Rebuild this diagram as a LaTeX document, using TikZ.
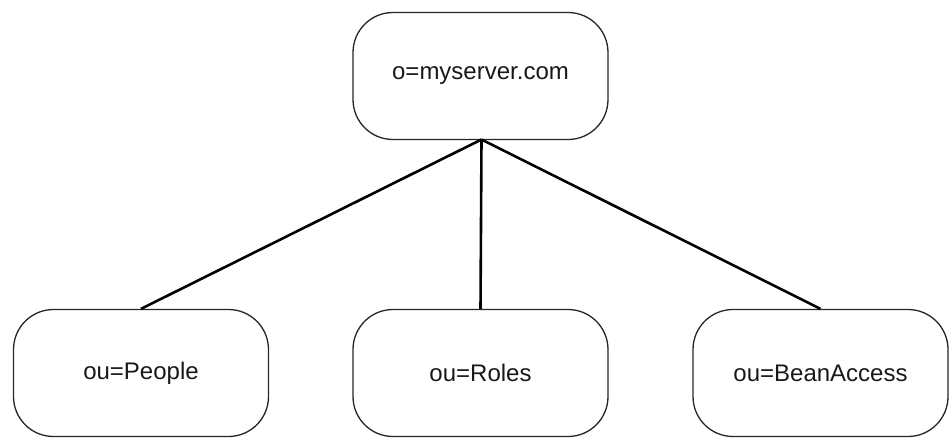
\documentclass[tikz,border=0pt]{standalone}
\usepackage{fontspec}
\setmainfont{Liberation Sans}
\begin{document}
\begin{tikzpicture}[x=1pt,y=-1pt,
  entry/.style={draw=black!85, line width=1.3pt, rounded corners=40pt, minimum width=255pt, minimum height=127pt, inner sep=0pt, font=\fontsize{24}{29}\selectfont, text=black!90},
  link/.style={draw=black, line width=2.6pt}]
\useasboundingbox (0,0) rectangle (952,442);
\node[entry] (root) at (480.5,76) {o=myserver.com};
\node[entry] (people) at (141,373) {ou=People};
\node[entry] (roles) at (480.5,373) {ou=Roles};
\node[entry] (bean) at (820.5,373) {ou=BeanAccess};
\coordinate (hub) at (481.5,139.5);
\draw[link] (hub) -- (people.north);
\draw[link] (hub) -- (roles.north);
\draw[link] (hub) -- (bean.north);
\end{tikzpicture}
\end{document}
